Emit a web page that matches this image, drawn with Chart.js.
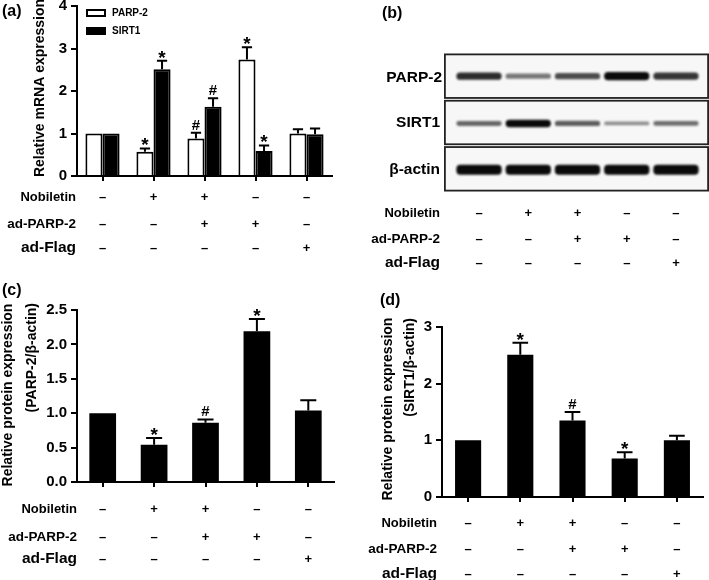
<!DOCTYPE html>
<html><head><meta charset="utf-8">
<script src="https://cdn.jsdelivr.net/npm/chart.js@4.4.1/dist/chart.umd.min.js"></script>
<style>
html,body{margin:0;padding:0;background:#fff;width:709px;height:580px;overflow:hidden;position:relative}
canvas{position:absolute}
</style></head><body>
<canvas id="ca"></canvas><canvas id="cb"></canvas><canvas id="cc"></canvas><canvas id="cd"></canvas>
<script>
// ---------- data ----------
const groups = ['G1','G2','G3','G4','G5'];
const rowNames = ['Nobiletin','ad-PARP-2','ad-Flag'];
const nobiletin = ['–','+','+','–','–'];
const adParp2   = ['–','–','+','+','–'];
const adFlag    = ['–','–','–','–','+'];

const mrnaParp2    = [1.0, 0.57, 0.88, 2.74, 1.0];
const mrnaParp2Se  = [0, 0.08, 0.14, 0.29, 0.10];
const mrnaParp2Sig = ['', '*', '#', '*', ''];
const mrnaSirt1    = [1.0, 2.51, 1.63, 0.59, 0.98];
const mrnaSirt1Se  = [0, 0.20, 0.20, 0.13, 0.14];
const mrnaSirt1Sig = ['', '*', '#', '*', ''];

const protParp2    = [1.0, 0.54, 0.86, 2.19, 1.04];
const protParp2Se  = [0, 0.10, 0.05, 0.18, 0.15];
const protParp2Sig = ['', '*', '#', '*', ''];

const protSirt1    = [1.0, 2.51, 1.35, 0.68, 1.0];
const protSirt1Se  = [0, 0.21, 0.15, 0.11, 0.08];
const protSirt1Sig = ['', '*', '#', '*', ''];

const blotRows   = ['PARP-2', 'SIRT1', 'β-actin'];
const blotParp2  = [0.8, 0.35, 0.6, 1.0, 0.75];
const blotSirt1  = [0.45, 1.0, 0.5, 0.2, 0.4];
const blotActin  = [1, 1, 1, 1, 1];

const ticksA = [0, 1, 2, 3, 4];
const tickLabelsA = ['0', '1', '2', '3', '4'];
const ticksC = [0, 0.5, 1.0, 1.5, 2.0, 2.5];
const tickLabelsC = ['0.0', '0.5', '1.0', '1.5', '2.0', '2.5'];
const ticksD = [0, 1, 2, 3];
const tickLabelsD = ['0', '1', '2', '3'];

// ---------- helpers ----------
const FONT = "'Liberation Sans', Arial, Helvetica, sans-serif";
const bfont = s => ({family: FONT, size: s, weight: 'bold'});
const treatRows = [nobiletin, adParp2, adFlag];
const rowFont = [13, 13.5, 15.5];

function geom(box, area){
  return {padding: {left: 0, top: area.t - box.top, right: box.left + box.w - area.r, bottom: 0},
          yWidth: area.l - box.left, xHeight: box.top + box.h - area.b};
}
function setupCanvas(id, box){
  const cv = document.getElementById(id);
  cv.width = box.w; cv.height = box.h;
  cv.style.left = box.left + 'px'; cv.style.top = box.top + 'px';
  cv.style.width = box.w + 'px'; cv.style.height = box.h + 'px';
  return cv;
}

const decor = {
  id: 'decor',
  beforeDatasetsDraw(chart, args, o){
    if(!o.blot) return;
    const ctx = chart.ctx, ys = chart.scales.y, a = chart.chartArea;
    ctx.save();
    ctx.fillStyle = '#f7f7f7';
    for(let k = 0; k < 3; k++){
      const y0 = ys.getPixelForValue(k + 0.03), y1 = ys.getPixelForValue(k + 0.97);
      ctx.fillRect(a.left - 9.5, y0, (a.right + 7.5) - (a.left - 9.5), y1 - y0);
    }
    ctx.filter = 'blur(1.3px)';
  },
  afterDatasetsDraw(chart, args, o){
    const ctx = chart.ctx, ys = chart.scales.y, a = chart.chartArea;
    if(o.blot){
      ctx.restore();
      ctx.save();
      ctx.strokeStyle = '#222'; ctx.lineWidth = 1.8;
      for(let k = 0; k < 3; k++){
        const y0 = ys.getPixelForValue(k + 0.03), y1 = ys.getPixelForValue(k + 0.97);
        ctx.strokeRect(a.left - 9.5, y0, (a.right + 7.5) - (a.left - 9.5), y1 - y0);
      }
      ctx.restore();
      return;
    }
    chart.data.datasets.forEach((ds, di) => {
      if(!ds.se) return;
      const meta = chart.getDatasetMeta(di);
      meta.data.forEach((bar, i) => {
        const se = ds.se[i];
        const yTop = ys.getPixelForValue(ds.data[i] + se);
        const x = bar.x, w = bar.width;
        ctx.save();
        ctx.strokeStyle = '#000'; ctx.lineWidth = 2;
        if(se > 0){
          ctx.beginPath();
          ctx.moveTo(x, bar.y); ctx.lineTo(x, yTop);
          ctx.moveTo(x - w * 0.3, yTop); ctx.lineTo(x + w * 0.3, yTop);
          ctx.stroke();
        }
        const m = ds.sig && ds.sig[i];
        if(m){
          ctx.fillStyle = '#000'; ctx.textAlign = 'center'; ctx.textBaseline = 'alphabetic';
          if(m === '*'){ ctx.font = 'bold 19px ' + FONT; ctx.fillText(m, x, yTop + 3); }
          else { ctx.font = 'bold 15px ' + FONT; ctx.fillText(m, x, yTop - 3); }
        }
        ctx.restore();
      });
    });
  },
  afterDraw(chart, args, o){
    const ctx = chart.ctx, ox = o.box.left, oy = o.box.top, xs = chart.scales.x;
    ctx.save();
    ctx.fillStyle = '#000';
    // panel label
    ctx.font = 'bold 16px ' + FONT; ctx.textAlign = 'left'; ctx.textBaseline = 'middle';
    ctx.fillText(o.panel.text, o.panel.x - ox, o.panel.y - oy);
    // axis titles
    (o.titles || []).forEach(t => {
      ctx.save();
      ctx.translate(t.x - ox, t.y - oy); ctx.rotate(-Math.PI / 2);
      ctx.font = 'bold 14px ' + FONT; ctx.textAlign = t.align; ctx.textBaseline = 'middle';
      ctx.fillText(t.text, 0, 0);
      ctx.restore();
    });
    // treatment table
    rowNames.forEach((name, r) => {
      const y = o.rows.y[r] - oy;
      ctx.font = 'bold ' + rowFont[r] + 'px ' + FONT; ctx.textAlign = 'right'; ctx.textBaseline = 'middle';
      ctx.fillText(name, o.rows.right - ox, y);
      ctx.font = 'bold 13px ' + FONT; ctx.textAlign = 'center';
      treatRows[r].forEach((s, i) => ctx.fillText(s, xs.getPixelForValue(i), y));
    });
    // legend
    if(o.legend){
      chart.data.datasets.forEach((ds, k) => {
        const bx = o.legend.x - ox, by = o.legend.boxY[k] - oy;
        ctx.fillStyle = ds.backgroundColor; ctx.fillRect(bx, by, 20, 8);
        ctx.strokeStyle = '#000'; ctx.lineWidth = 2; ctx.strokeRect(bx + 1, by + 1, 18, 6);
        ctx.fillStyle = '#000'; ctx.font = 'bold 10px ' + FONT; ctx.textAlign = 'left'; ctx.textBaseline = 'middle';
        ctx.fillText(ds.label, o.legend.textX - ox, o.legend.textY[k] - oy);
      });
    }
    // blot row labels
    if(o.blot){
      ctx.font = 'bold 15.5px ' + FONT; ctx.textAlign = 'right'; ctx.textBaseline = 'middle';
      blotRows.forEach((t, k) => ctx.fillText(t, o.blot.right[k] - ox, o.blot.y[k] - oy));
    }
    ctx.restore();
  }
};

function barChart(id, box, area, datasets, yMin, yMax, yTicks, yTickLabels, catPct, decorOpts){
  const cv = setupCanvas(id, box);
  const g = geom(box, area);
  decorOpts.box = box;
  return new Chart(cv, {
    type: 'bar',
    data: {labels: groups, datasets},
    options: {
      responsive: false, animation: false, events: [], devicePixelRatio: 1,
      layout: {padding: g.padding},
      datasets: {bar: {categoryPercentage: catPct, barPercentage: 1}},
      scales: {
        x: {type: 'category', offset: true,
          grid: {display: true, drawOnChartArea: false, drawTicks: true, tickLength: 5, color: '#000', lineWidth: 2, offset: false},
          border: {display: true, color: '#000', width: 2},
          ticks: {callback: () => '', padding: 0, font: bfont(1)},
          afterFit(s){ s.height = g.xHeight; s.paddingLeft = s.paddingRight = s.paddingTop = s.paddingBottom = 0; }
        },
        y: {type: 'linear', min: yMin, max: yMax,
          afterBuildTicks(s){ s.ticks = yTicks.map(v => ({value: v})); },
          ticks: {callback: (v, i) => yTickLabels[i], color: '#000', font: bfont(15), padding: 4},
          grid: {display: true, drawOnChartArea: false, drawTicks: true, tickLength: 6, color: '#000', lineWidth: 2},
          border: {display: true, color: '#000', width: 2},
          afterFit(s){ s.width = g.yWidth; s.paddingLeft = s.paddingRight = s.paddingTop = s.paddingBottom = 0; }
        }
      },
      plugins: {legend: {display: false}, tooltip: {enabled: false}, decor: decorOpts}
    },
    plugins: [decor]
  });
}

// ---------- panel (a) ----------
const boxA = {left: 0, top: 0, w: 360, h: 275};
barChart('ca', boxA, {l: 77, r: 332, t: 6, b: 176}, [
  {label: 'PARP-2', data: mrnaParp2, se: mrnaParp2Se, sig: mrnaParp2Sig, backgroundColor: '#ffffff', borderColor: '#000', borderWidth: 2},
  {label: 'SIRT1', data: mrnaSirt1, se: mrnaSirt1Se, sig: mrnaSirt1Sig, backgroundColor: '#000000', borderColor: '#000', borderWidth: 2}
], 0, 4, ticksA, tickLabelsA, 0.67, {
  panel: {text: '(a)', x: 2, y: 12},
  titles: [{text: 'Relative mRNA expression', x: 40, y: 88, align: 'center'}],
  rows: {y: [197, 224, 248], right: 76},
  legend: {x: 86, boxY: [9, 27], textX: 112, textY: [13, 31]}
});

// ---------- panel (c) ----------
const boxC = {left: 0, top: 275, w: 360, h: 305};
barChart('cc', boxC, {l: 77, r: 334, t: 310, b: 482}, [
  {label: 'PARP-2/β-actin', data: protParp2, se: protParp2Se, sig: protParp2Sig, backgroundColor: '#000', borderWidth: 0}
], 0, 2.5, ticksC, tickLabelsC, 0.52, {
  panel: {text: '(c)', x: 2, y: 291},
  titles: [{text: 'Relative protein expression', x: 8, y: 395, align: 'center'},
           {text: '(PARP-2/β-actin)', x: 32, y: 303, align: 'right'}],
  rows: {y: [509, 537, 559], right: 77}
});

// ---------- panel (d) ----------
const boxD = {left: 360, top: 285, w: 349, h: 295};
barChart('cd', boxD, {l: 442, r: 703, t: 327, b: 497}, [
  {label: 'SIRT1/β-actin', data: protSirt1, se: protSirt1Se, sig: protSirt1Sig, backgroundColor: '#000', borderWidth: 0}
], 0, 3, ticksD, tickLabelsD, 0.5, {
  panel: {text: '(d)', x: 380, y: 301},
  titles: [{text: 'Relative protein expression', x: 388, y: 409, align: 'center'},
           {text: '(SIRT1/β-actin)', x: 410, y: 318, align: 'right'}],
  rows: {y: [523, 549, 574], right: 437}
});

// ---------- panel (b): western blot ----------
const boxB = {left: 360, top: 0, w: 349, h: 285};
const areaB = {l: 454.4, r: 700.6, t: 53, b: 192};
const blotCenters = [0.5, 1.52, 2.52];
const blotMax = [0.18, 0.16, 0.22];
function bandData(vals, r){
  return vals.map(v => { const t = blotMax[r] * (0.4 + 0.6 * v); return [blotCenters[r] - t / 2, blotCenters[r] + t / 2]; });
}
const bandColor = vals => vals.map(v => 'rgba(10,10,10,' + (0.3 + 0.7 * v).toFixed(2) + ')');
(function(){
  const cv = setupCanvas('cb', boxB);
  new Chart(cv, {
    type: 'bar',
    data: {labels: groups, datasets: [
      {label: blotRows[0], data: bandData(blotParp2, 0), backgroundColor: bandColor(blotParp2)},
      {label: blotRows[1], data: bandData(blotSirt1, 1), backgroundColor: bandColor(blotSirt1)},
      {label: blotRows[2], data: bandData(blotActin, 2), backgroundColor: bandColor(blotActin)}
    ]},
    options: {
      responsive: false, animation: false, events: [], devicePixelRatio: 1,
      layout: {padding: {left: areaB.l - boxB.left, right: boxB.left + boxB.w - areaB.r, top: areaB.t - boxB.top, bottom: boxB.top + boxB.h - areaB.b}},
      datasets: {bar: {grouped: false, categoryPercentage: 1, barPercentage: 0.92, borderRadius: 4, borderSkipped: false, borderWidth: 0}},
      scales: {
        x: {type: 'category', display: false, offset: true},
        y: {type: 'linear', display: false, min: 0, max: 3, reverse: true}
      },
      plugins: {legend: {display: false}, tooltip: {enabled: false}, decor: {
        box: boxB,
        panel: {text: '(b)', x: 382, y: 14},
        rows: {y: [213, 239, 263], right: 440},
        blot: {right: [442, 440, 440], y: [78, 123, 170]}
      }}
    },
    plugins: [decor]
  });
})();
</script>
</body></html>
